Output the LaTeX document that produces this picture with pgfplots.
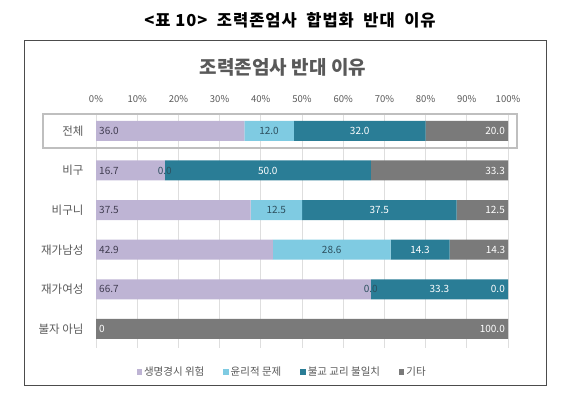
\documentclass[border=0pt]{standalone}
\usepackage{fontspec}
\setmainfont{Noto Sans CJK KR}
\usepackage{pgfplots}
\pgfplotsset{compat=1.18}
\usepackage{pgfplotstable}
\definecolor{cA}{RGB}{190,180,212}
\definecolor{cB}{RGB}{127,203,226}
\definecolor{cC}{RGB}{42,125,150}
\definecolor{cD}{RGB}{122,122,122}
\definecolor{txt}{RGB}{89,89,89}
\definecolor{gridc}{RGB}{222,222,222}
\definecolor{labA}{RGB}{64,60,80}
\definecolor{labB}{RGB}{45,80,95}

\pgfplotstableread{
y a b c d la lb lc ld
0 36.0 12.0 32.0 20.0 36.0 12.0 32.0 20.0
1 16.7 0.0 50.0 33.3 16.7 0.0 50.0 33.3
2 37.5 12.5 37.5 12.5 37.5 12.5 37.5 12.5
3 42.9 28.6 14.3 14.3 42.9 28.6 14.3 14.3
4 66.7 0.0 33.3 0.0 66.7 0.0 33.3 0.0
5 0 0 0 100 {\color{white}0} {} {} 100.0
}\datatable

\pgfplotsset{
  common/.style={
    at={(96bp,48bp)}, anchor=south west,
    width=412bp, height=235bp, scale only axis,
    xmin=0, xmax=100, ymin=-0.45, ymax=5.48, y dir=reverse,
  },
}
\tikzset{lab/.style={font=\fontsize{10bp}{12bp}\selectfont, inner sep=1bp}}

\begin{document}
\begin{tikzpicture}[x=1bp,y=1bp]
\path[use as bounding box] (0,0) rectangle (562,396);
\node[font=\bfseries\fontsize{16.5bp}{19bp}\selectfont\addfontfeature{LetterSpace=6}] at (290,376) {<표 10>\ \ 조력존엄사\ \ 합법화\ \ 반대\ \ 이유};
\draw[color=black!70, line width=1bp] (24.3,10.3) rectangle (546,355.3);
\node[font=\bfseries\fontsize{19bp}{22bp}\selectfont, text=txt] at (283,329) {조력존엄사 반대 이유};
\begin{axis}[
  common,
  xbar stacked, bar width=20bp,
  xtick={0,10,...,100},
  xticklabel pos=top,
  xticklabel={\pgfmathprintnumber{\tick}\%},
  /pgf/number format/assume math mode=true,
  ytick={0,...,5},
  yticklabels={전체,비구,비구니,재가남성,재가여성,불자 아님},
  xmajorgrids, grid style={draw=gridc, line width=0.75bp},
  axis line style={draw=none}, major tick length=0pt,
  tick label style={text=txt},
  xticklabel style={font=\fontsize{9.5bp}{11bp}\selectfont, yshift=7bp},
  yticklabel style={font=\fontsize{11.5bp}{13bp}\selectfont, xshift=-9bp},
  legend style={at={(0.452,-0.102)}, anchor=center, draw=none, fill=none,
    legend columns=4, font=\fontsize{10.5bp}{12bp}\selectfont, text=txt,
    /tikz/every even column/.append style={column sep=17bp}},
  legend image code/.code={\fill[#1,draw=none] (0bp,-2.7bp) rectangle (5.4bp,2.7bp);},
]
\addplot[fill=cA, draw=none] table[x=a, y=y] {\datatable};
\addplot[fill=cB, draw=none] table[x=b, y=y] {\datatable};
\addplot[fill=cC, draw=none] table[x=c, y=y] {\datatable};
\addplot[fill=cD, draw=none] table[x=d, y=y] {\datatable};
\legend{생명경시 위험, 윤리적 문제, 불교 교리 불일치, 기타}
\end{axis}
\begin{axis}[common, hide axis, clip=false]
\addplot[only marks, mark=none, nodes near coords, point meta=explicit symbolic,
  every node near coord/.style={lab, anchor=west, text=labA, xshift=2bp}]
  table[x expr=0, y=y, meta=la] {\datatable};
\addplot[only marks, mark=none, nodes near coords, point meta=explicit symbolic,
  every node near coord/.style={lab, anchor=center, text=labB}]
  table[x expr=\thisrow{a}+\thisrow{b}/2, y=y, meta=lb] {\datatable};
\addplot[only marks, mark=none, nodes near coords, point meta=explicit symbolic,
  every node near coord/.style={lab, anchor=center, text=white}]
  table[x expr=\thisrow{a}+\thisrow{b}+\thisrow{c}/2, y=y, meta=lc] {\datatable};
\addplot[only marks, mark=none, nodes near coords, point meta=explicit symbolic,
  every node near coord/.style={lab, anchor=east, text=white, xshift=-2bp}]
  table[x expr=\thisrow{a}+\thisrow{b}+\thisrow{c}+\thisrow{d}, y=y, meta=ld] {\datatable};
\end{axis}
\draw[color=black!25, line width=2bp] (43,248) rectangle (517,282);
\end{tikzpicture}
\end{document}
